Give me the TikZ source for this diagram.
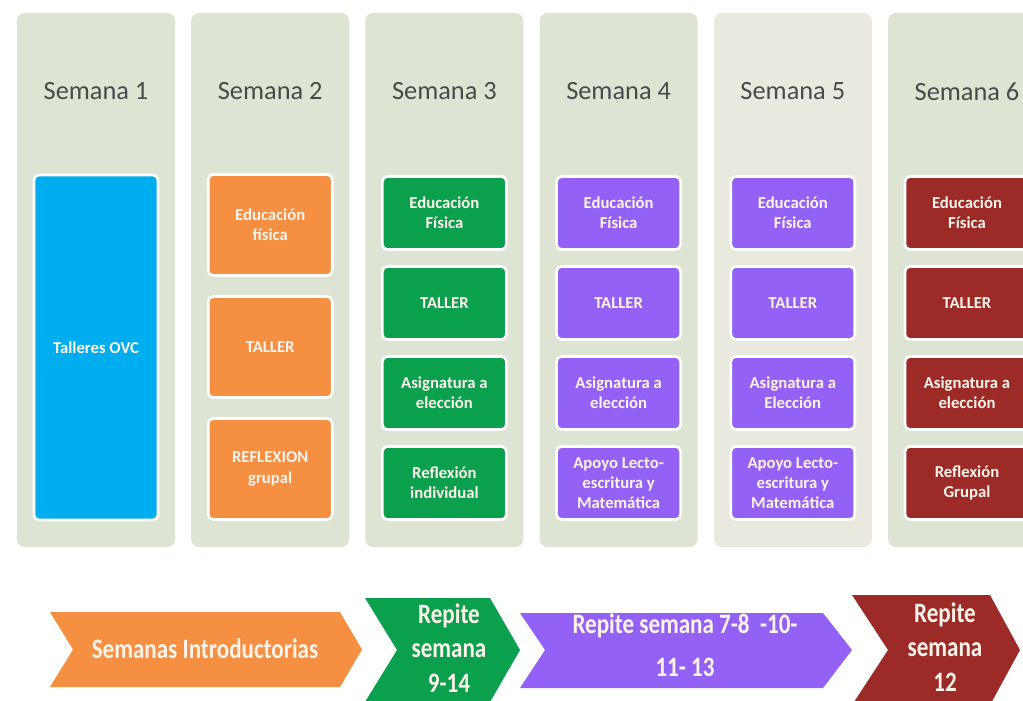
\documentclass[tikz,border=0pt]{standalone}
\usepackage{fontspec}
\setmainfont{Carlito}
\newfontfamily\condfont[FakeStretch=0.82]{Carlito}
\definecolor{panelc}{HTML}{DDE4D3}
\definecolor{panelb}{HTML}{E9E9DF}
\definecolor{bluec}{HTML}{00AEEF}
\definecolor{orangec}{HTML}{F58F42}
\definecolor{greenc}{HTML}{0AA04E}
\definecolor{purplec}{HTML}{9461F7}
\definecolor{redc}{HTML}{9C2B27}
\definecolor{headc}{HTML}{4A4A4A}
\definecolor{textc}{HTML}{FFF4EA}
\tikzset{
	panel/.style={fill=#1, rounded corners=4.5pt, minimum width=3.16cm, minimum height=10.68cm, inner sep=0pt},
	head/.style={text=headc, font=\fontsize{15}{18}\selectfont},
	item/.style={fill=#1, draw=white, line width=1.5pt, rounded corners=2.8pt, minimum width=2.48cm, inner sep=0pt,
		text=textc, align=center, font=\fontsize{9.5}{11.5}\selectfont\bfseries},
	tag/.style={text=textc, align=center, font=\condfont\bfseries\fontsize{16}{19.5}\selectfont}
}
\begin{document}
\begin{tikzpicture}[x=0.02cm, y=-0.02cm]
\useasboundingbox (0,0) rectangle (1023,700);
\fill[white] (0,0) rectangle (1023,700);
\foreach \i/\cx/\pc in {1/96/panelc, 2/270.2/panelc, 3/444.4/panelc, 4/618.6/panelc, 5/792.8/panelb, 6/967/panelc}
{
	\node[panel=\pc] (p\i) at (\cx,280) {};
	\node[head] (h\i) at (\cx,91.5) {Semana \i};
}
\node[item=bluec, minimum height=6.9cm] (t1) at (96,347.5) {Talleres OVC};
\foreach \y/\t [count=\k] in {225/{Educación\\física}, 347/TALLER, 469/{REFLEXION\\grupal}}
	\node[item=orangec, minimum height=2.02cm] (o\k) at (270.2,\y) {\t};
\foreach \y/\t [count=\k] in {213/{Educación\\Física}, 303/TALLER, 393/{Asignatura a\\elección}, 483/{Reflexión\\individual}}
	\node[item=greenc, minimum height=1.46cm] (g\k) at (444.4,\y) {\t};
\foreach \y/\t [count=\k] in {213/{Educación\\Física}, 303/TALLER, 393/{Asignatura a\\elección}, 483/{Apoyo Lecto-\\escritura y\\Matemática}}
	\node[item=purplec, minimum height=1.46cm] (m\k) at (618.6,\y) {\t};
\foreach \y/\t [count=\k] in {213/{Educación\\Física}, 303/TALLER, 393/{Asignatura a\\Elección}, 483/{Apoyo Lecto-\\escritura y\\Matemática}}
	\node[item=purplec, minimum height=1.46cm] (n\k) at (792.8,\y) {\t};
\foreach \y/\t [count=\k] in {213/{Educación\\Física}, 303/TALLER, 393/{Asignatura a\\elección}, 483/{Reflexión\\Grupal}}
	\node[item=redc, minimum height=1.46cm] (r\k) at (967,\y) {\t};
\fill[orangec] (50,612) -- (340,612) -- (362,649.5) -- (340,687) -- (50,687) -- (73,649.5) -- cycle;
\node[tag] (intro) at (205,649) {Semanas Introductorias};
\fill[greenc] (365,598) -- (490,598) -- (520,650) -- (490,702) -- (365,702) -- (397,650) -- cycle;
\node[tag] (rep1) at (449,648) {Repite\\semana\\9-14};
\fill[purplec] (520,613) -- (823,613) -- (852,650) -- (823,688) -- (520,688) -- (545,650) -- cycle;
\node[tag] (rep2) at (685,645) {Repite semana 7-8\ \ -10-\\[5pt]11- 13};
\fill[redc] (852,595) -- (990,595) -- (1020,650) -- (990,705) -- (852,705) -- (888,650) -- cycle;
\node[tag] (rep3) at (945,647) {Repite\\semana\\12};
\end{tikzpicture}
\end{document}
